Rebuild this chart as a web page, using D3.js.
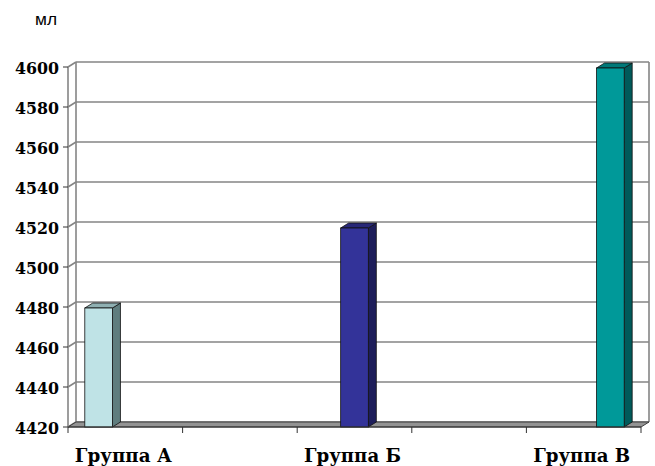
<!DOCTYPE html>
<html>
<head>
<meta charset="utf-8">
<script src="https://cdn.jsdelivr.net/npm/d3@7"></script>
<style>
  html, body { margin: 0; padding: 0; background: #fff; }
  svg { display: block; }
  .serif { font-family: "DejaVu Serif", "Liberation Serif", serif; font-weight: bold; }
  .sans { font-family: "Liberation Sans", Arial, sans-serif; }
</style>
</head>
<body>
<svg id="chart" width="655" height="466"></svg>
<script>
// Category slots along the x axis (only every other slot is labelled)
const categoryLabels = ["Группа А", "", "Группа Б", "", "Группа В"];
// One bar per group: its slot on the axis, its series position and its volume (мл)
const groupNames = ["Группа А", "Группа Б", "Группа В"];
const groupSlot = [0, 2, 4];
const groupSeries = [0, 1, 2];
const groupValues = [4480, 4520, 4600];
const barFront = ["#bfe3e6", "#333399", "#009999"];
const barSide = ["#5f7d7e", "#1d1d5a", "#005a5a"];
const barTop = ["#8fb0b2", "#272777", "#007878"];
// Value axis
const yTicks = [4420, 4440, 4460, 4480, 4500, 4520, 4540, 4560, 4580, 4600];
const unitLabel = "мл";

const svg = d3.select("#chart");
const x0 = 68, x1 = 641, yBottom = 427, yTop = 67;
const dx = 8, dy = -5;           // depth offset of the back wall
const depthX = 8, depthY = -5;   // depth of each column

const y = d3.scaleLinear().domain([4420, 4600]).range([yBottom, yTop]);
const x = d3.scaleBand().domain(d3.range(categoryLabels.length)).range([x0, x1]).padding(0);
const inner = d3.scaleBand().domain([0, 1, 2])
  .range([x.bandwidth() / 2 - 40, x.bandwidth() / 2 + 40]).padding(0);

const gridColor = "#858585";

// Back wall gridlines
svg.append("g").selectAll("line.grid").data(yTicks).join("line")
  .attr("x1", x0 + dx).attr("x2", x1 + dx)
  .attr("y1", d => y(d) + dy).attr("y2", d => y(d) + dy)
  .attr("stroke", gridColor).attr("stroke-width", 1.6);

// Side wall gridline segments
svg.append("g").selectAll("line.side").data(yTicks).join("line")
  .attr("x1", x0).attr("x2", x0 + dx)
  .attr("y1", d => y(d)).attr("y2", d => y(d) + dy)
  .attr("stroke", gridColor).attr("stroke-width", 1.6);

// Wall edges
[[x0 + dx, x0 + dx], [x1 + dx, x1 + dx]].forEach(([a, b]) => {
  svg.append("line").attr("x1", a).attr("x2", b)
    .attr("y1", y(4600) + dy).attr("y2", y(4420) + dy)
    .attr("stroke", gridColor).attr("stroke-width", 1.6);
});

// Floor
svg.append("path")
  .attr("d", `M${x0},${yBottom} L${x1},${yBottom} L${x1 + dx},${yBottom + dy} L${x0 + dx},${yBottom + dy} Z`)
  .attr("fill", "#939393").attr("stroke", "#3d3d3d").attr("stroke-width", 1);

// Front value axis line
svg.append("line").attr("x1", x0).attr("x2", x0)
  .attr("y1", y(4600)).attr("y2", yBottom)
  .attr("stroke", gridColor).attr("stroke-width", 1.6);

// Columns
const bars = svg.append("g").selectAll("g.bar").data(groupValues.map((v, i) => ({ v, i }))).join("g");
bars.each(function (d) {
  const g = d3.select(this);
  const bx = x(groupSlot[d.i]) + inner(groupSeries[d.i]) - 0.5;
  const bw = inner.bandwidth() + 1;
  const top = y(d.v) + 1;
  g.append("path")
    .attr("d", `M${bx + bw},${yBottom} L${bx + bw + depthX},${yBottom + depthY} L${bx + bw + depthX},${top + depthY} L${bx + bw},${top} Z`)
    .attr("fill", barSide[d.i]).attr("stroke", "#111").attr("stroke-width", 0.8);
  g.append("path")
    .attr("d", `M${bx},${top} L${bx + depthX},${top + depthY} L${bx + bw + depthX},${top + depthY} L${bx + bw},${top} Z`)
    .attr("fill", barTop[d.i]).attr("stroke", "#111").attr("stroke-width", 0.8);
  g.append("rect")
    .attr("x", bx).attr("y", top).attr("width", bw).attr("height", yBottom - top)
    .attr("fill", barFront[d.i]).attr("stroke", "#111").attr("stroke-width", 0.8);
});

// Category axis line and ticks
svg.append("line").attr("x1", x0).attr("x2", x1).attr("y1", yBottom).attr("y2", yBottom)
  .attr("stroke", "#333").attr("stroke-width", 1);
svg.append("g").selectAll("line").data(d3.range(categoryLabels.length + 1)).join("line")
  .attr("x1", i => x0 + i * x.step()).attr("x2", i => x0 + i * x.step())
  .attr("y1", yBottom).attr("y2", yBottom + 6)
  .attr("stroke", "#333").attr("stroke-width", 1);

// Value axis ticks and labels
svg.append("g").selectAll("line").data(yTicks).join("line")
  .attr("x1", x0 - 5).attr("x2", x0)
  .attr("y1", d => y(d)).attr("y2", d => y(d))
  .attr("stroke", "#333").attr("stroke-width", 1);
svg.append("g").selectAll("text").data(yTicks).join("text")
  .attr("class", "serif")
  .attr("x", 59).attr("y", d => y(d) + 6.5)
  .attr("text-anchor", "end")
  .attr("font-size", 16)
  .attr("textLength", 44).attr("lengthAdjust", "spacingAndGlyphs")
  .attr("fill", "#000")
  .text(d => d3.format("d")(d));

// Category labels
svg.append("g").selectAll("text").data(categoryLabels.map((t, i) => ({ t, i })).filter(d => d.t)).join("text")
  .attr("class", "serif")
  .attr("x", d => x(d.i) + x.bandwidth() / 2 - 2).attr("y", 462)
  .attr("text-anchor", "middle")
  .attr("font-size", 18)
  .attr("textLength", 97).attr("lengthAdjust", "spacingAndGlyphs")
  .attr("fill", "#000")
  .text(d => d.t);

// Unit label
svg.append("text").attr("class", "sans").attr("x", 35).attr("y", 25)
  .attr("font-size", 16).attr("textLength", 22).attr("lengthAdjust", "spacingAndGlyphs")
  .attr("fill", "#000")
  .text(unitLabel);
</script>
</body>
</html>
